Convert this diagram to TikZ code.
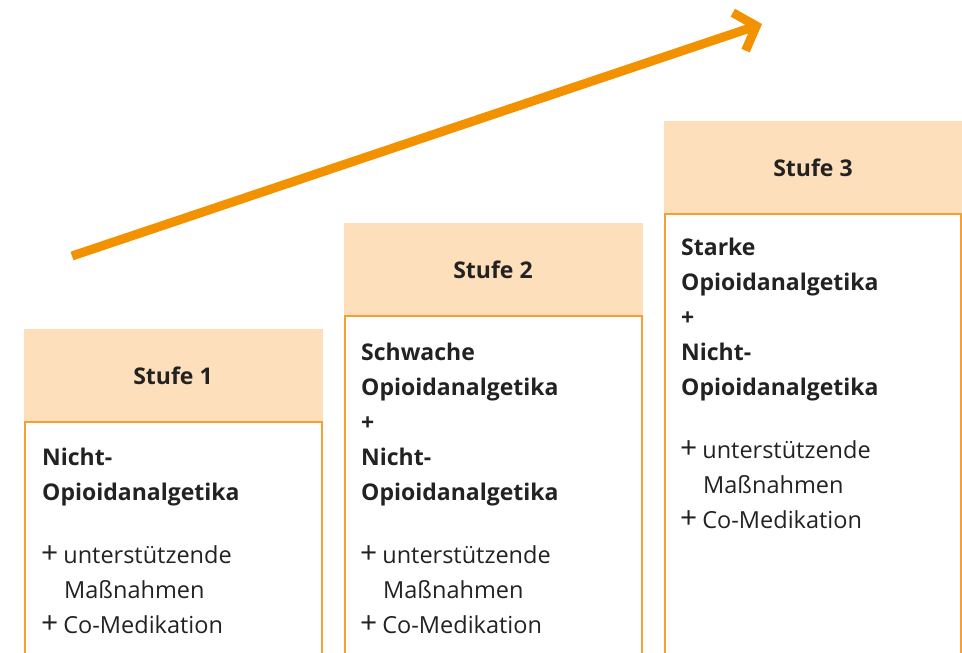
\documentclass[tikz,border=0pt]{standalone}
\usepackage{fontspec}
\setmainfont{Open Sans}
\usetikzlibrary{arrows.meta}
\definecolor{peach}{HTML}{FDDFBB}
\definecolor{orangeA}{HTML}{F39200}
\definecolor{borderC}{HTML}{F5A030}
\definecolor{txt}{HTML}{222222}
\newcommand{\pls}{{\fontsize{30}{30}\selectfont\mdseries +}\hspace{5pt}}
\tikzset{
  headbox/.style={fill=peach, draw=none},
  bodyline/.style={draw=borderC, line width=1.3pt},
  headtxt/.style={font=\fontsize{23}{27}\selectfont\bfseries, text=txt, inner sep=0pt, anchor=base},
  boldln/.style={font=\fontsize{23}{27}\selectfont\bfseries, text=txt, inner sep=0pt, anchor=base west},
  regln/.style={font=\fontsize{23.5}{27}\selectfont, text=txt, inner sep=0pt, anchor=base west},
  bigarrow/.style={draw=orangeA, line width=9pt, -{Straight Barb[length=18pt,width=40pt]}}
}
\begin{document}
\begin{tikzpicture}[x=1pt,y=-1pt]
\useasboundingbox (0,0) rectangle (962,653);
% Box 1
\fill[headbox] (24,329) rectangle (323,422);
\draw[bodyline] (25,653) -- (25,422) -- (322,422) -- (322,653);
\node[headtxt] (h1) at (173,384) {Stufe 1};
\node[boldln] (a1) at (42,465) {Nicht-};
\node[boldln] (a2) at (42,500) {Opioidanalgetika};
\node[regln] (a3) at (41,563) {\pls unterstützende};
\node[regln] (a4) at (64,598) {Maßnahmen};
\node[regln] (a5) at (41,633) {\pls Co-Medikation};
% Box 2
\fill[headbox] (344,223) rectangle (643,316);
\draw[bodyline] (345,653) -- (345,316) -- (642,316) -- (642,653);
\node[headtxt] (h2) at (493,278) {Stufe 2};
\node[boldln] (b1) at (361,360) {Schwache};
\node[boldln] (b2) at (361,395) {Opioidanalgetika};
\node[boldln] (b3) at (361,430) {+};
\node[boldln] (b4) at (361,465) {Nicht-};
\node[boldln] (b5) at (361,500) {Opioidanalgetika};
\node[regln] (b6) at (360,563) {\pls unterstützende};
\node[regln] (b7) at (383,598) {Maßnahmen};
\node[regln] (b8) at (360,633) {\pls Co-Medikation};
% Box 3
\fill[headbox] (664,121) rectangle (962,214);
\draw[bodyline] (665,653) -- (665,214) -- (961,214) -- (961,653);
\node[headtxt] (h3) at (813,176) {Stufe 3};
\node[boldln] (c1) at (681,255) {Starke};
\node[boldln] (c2) at (681,290) {Opioidanalgetika};
\node[boldln] (c3) at (681,325) {+};
\node[boldln] (c4) at (681,360) {Nicht-};
\node[boldln] (c5) at (681,395) {Opioidanalgetika};
\node[regln] (c6) at (680,458) {\pls unterstützende};
\node[regln] (c7) at (703,493) {Maßnahmen};
\node[regln] (c8) at (680,528) {\pls Co-Medikation};
% Arrow
\coordinate (s) at (72,256);
\coordinate (t) at (762,24);
\draw[bigarrow] (s) -- (t);
\end{tikzpicture}
\end{document}
